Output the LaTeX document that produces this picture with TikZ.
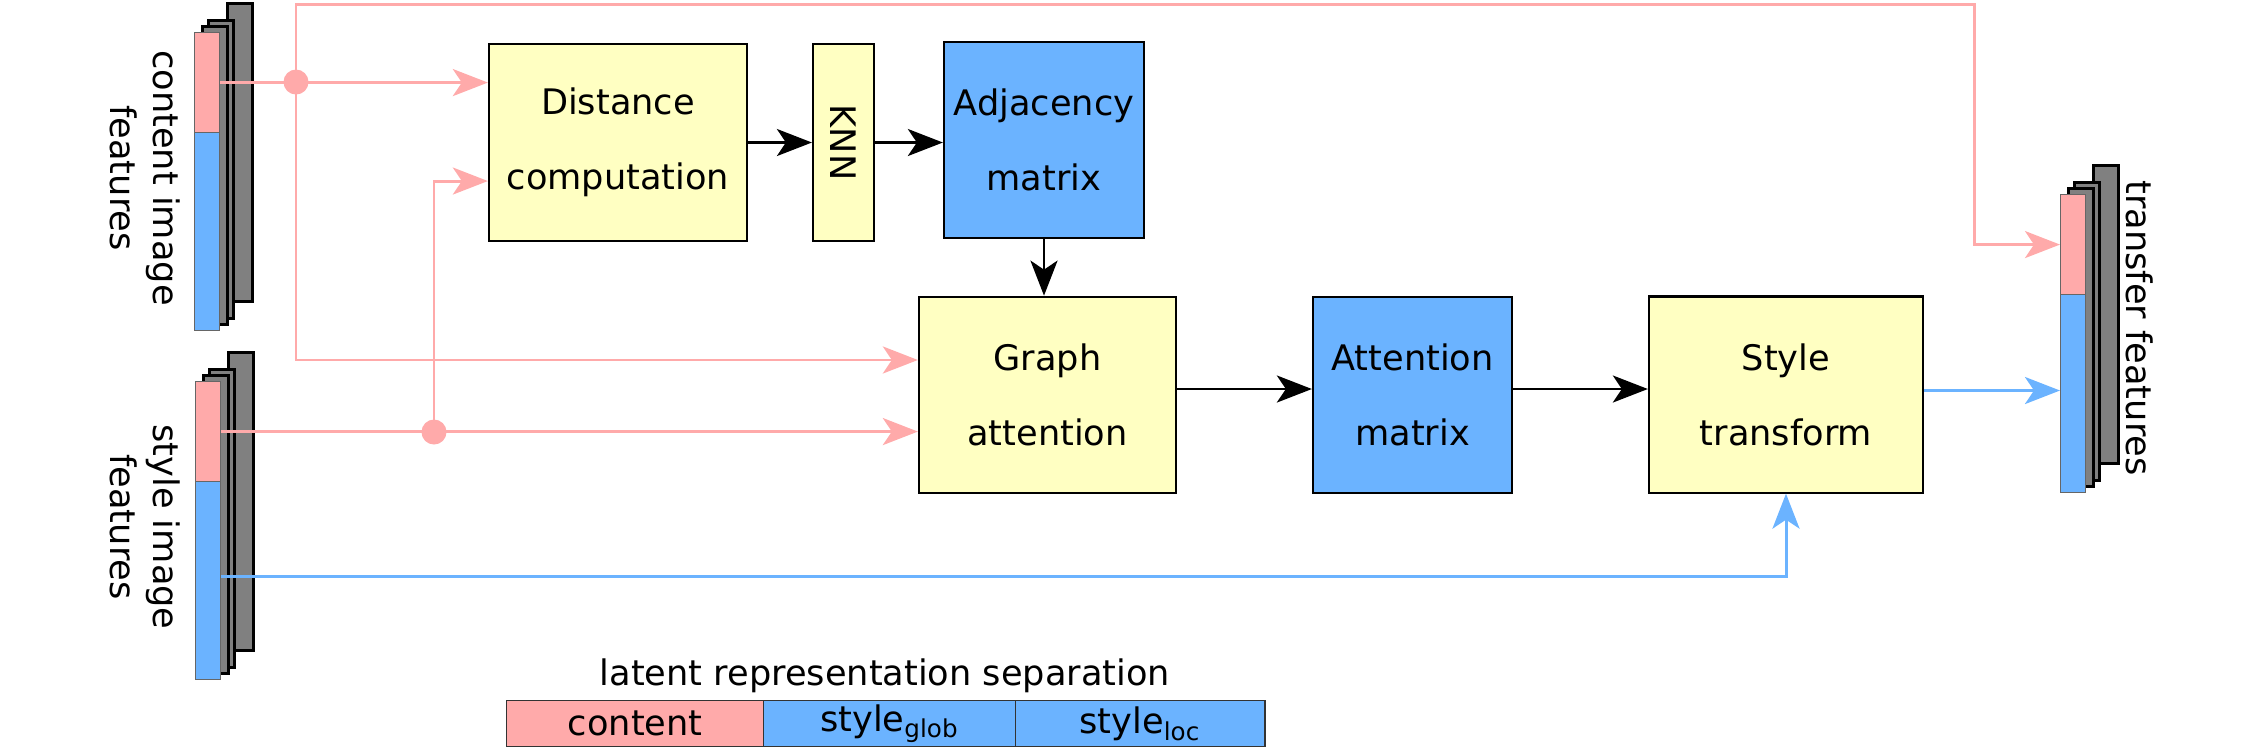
\documentclass[tikz,border=0pt]{standalone}
\usepackage{fontspec}
\setmainfont{DejaVu Sans}
\usetikzlibrary{arrows.meta}
\definecolor{pinkc}{HTML}{FFAAAA}
\definecolor{bluec}{HTML}{6BB3FF}
\definecolor{yellowc}{HTML}{FFFFC2}
\definecolor{grayc}{HTML}{808080}
\tikzset{
  layer/.style={rectangle, draw=black, line width=0.9pt, fill=grayc, inner sep=0pt,
    minimum width=0.25cm, minimum height=2.98cm, anchor=north west},
  seg/.style={rectangle, draw=grayc!80!black, line width=0.3pt, inner sep=0pt,
    minimum width=0.25cm, anchor=north west},
  boxbase/.style={rectangle, draw=black, line width=0.6pt, inner sep=0pt, align=center,
    font=\fontsize{10}{21.3}\selectfont},
  ybox/.style={boxbase, fill=yellowc},
  bbox/.style={boxbase, fill=bluec},
  arr/.style={-{Stealth[length=0.35cm,width=0.27cm,inset=0.09cm]}},
  blk/.style={arr, draw=black, line width=0.75pt},
  pk/.style={draw=pinkc, line width=0.85pt},
  bl/.style={draw=bluec, line width=0.85pt},
  dot/.style={circle, fill=pinkc, minimum size=0.25cm, inner sep=0pt},
  lbl/.style={font=\fontsize{10}{12.2}\selectfont, align=center, rotate=-90},
  legbox/.style={rectangle, draw=black!80, line width=0.4pt, inner sep=0pt,
    minimum height=0.46cm, anchor=north west, font=\fontsize{10}{12}\selectfont},
}
\newcommand\featstack[3]{%
  \node[layer] (#1back) at ({#2+31.5},{#3-30}) {};
  \node[layer] (#1third) at ({#2+13},{#3-13}) {};
  \node[layer] (#1second) at ({#2+6.5},{#3-7.5}) {};
  \node[seg, fill=pinkc, minimum height=1.00cm] (#1pink) at (#2,#3) {};
  \node[seg, fill=bluec, minimum height=1.98cm] (#1blue) at ({#2},{#3+100}) {};
}
\begin{document}
\begin{tikzpicture}[x=0.01cm, y=-0.01cm]
\useasboundingbox (0,0) rectangle (2250,747);

% feature stacks
\featstack{c}{194}{32}
\featstack{s}{195}{381}
\featstack{t}{2060}{194}

\node[lbl] (clabel) at (145,178) {content image\\features};
\node[lbl] (slabel) at (145,527) {style image\\features};
\node[lbl] (tlabel) at (2140,328) {transfer features};

% boxes
\node[ybox, minimum width=2.58cm, minimum height=1.97cm] (dist) at (618,142.5) {Distance\\computation};
\node[ybox, minimum width=0.61cm, minimum height=1.97cm] (knn) at (843.5,142.5) {\rotatebox[origin=c]{-90}{KNN}};
\node[bbox, minimum width=2.00cm, minimum height=1.96cm] (adj) at (1044,140) {Adjacency\\matrix};
\node[ybox, minimum width=2.57cm, minimum height=1.965cm] (ga) at (1047.5,395) {Graph\\attention};
\node[bbox, minimum width=1.99cm, minimum height=1.96cm] (am) at (1412.5,395) {Attention\\matrix};
\node[ybox, minimum width=2.74cm, minimum height=1.96cm] (st) at (1786,394.5) {Style\\transform};

% black connectors
\draw[blk] (dist.east) -- (dist.east -| knn.west);
\draw[blk] (knn.east) -- (knn.east -| adj.west);
\draw[blk] (adj.south) -- (adj.south |- ga.north);
\draw[blk] ([yshift=0.06cm]ga.east) -- ([yshift=0.06cm]ga.east -| am.west);
\draw[blk] ([yshift=0.06cm]am.east) -- ([yshift=0.06cm]am.east -| st.west);

% pink connectors
\coordinate (j1) at (296,82);
\coordinate (topr) at (1974,4);
\coordinate (j2) at (434,432);
\draw[pk, arr] (cpink.east) -- (cpink.east -| dist.west);
\draw[pk, arr] (j1) -- (j1 |- topr) -- (topr) |- (tpink.west);
\draw[pk, arr] (j1) |- ([yshift=0.35cm]ga.west);
\draw[pk, arr] (spink.east) -- (spink.east -| ga.west);
\draw[pk, arr] (j2) |- ([yshift=-0.385cm]dist.west);
\node[dot] (d1) at (j1) {};
\node[dot] (d2) at (j2) {};

% blue connectors
\draw[bl, arr] ([yshift=0.04cm]sblue.east) -| (st.south);
\draw[bl, arr] ([yshift=0.04cm]st.east) -- ([yshift=0.04cm]st.east -| tblue.west);

% legend
\node[font=\fontsize{10}{12}\selectfont, anchor=base] (legtitle) at (885,685) {latent representation separation};
\node[legbox, fill=pinkc, minimum width=2.57cm] (lcont) at (506,700) {content};
\node[legbox, fill=bluec, minimum width=2.52cm] (lglob) at (763,700) {style\textsubscript{glob}};
\node[legbox, fill=bluec, minimum width=2.49cm] (lloc) at (1015,700) {style\textsubscript{loc}};
\end{tikzpicture}
\end{document}
